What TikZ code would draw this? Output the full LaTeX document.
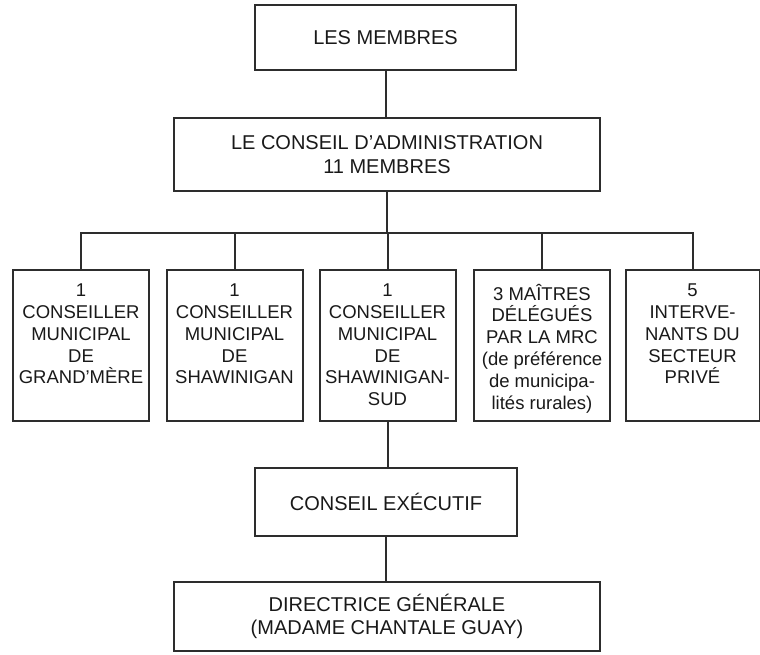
\documentclass[tikz,border=0pt]{standalone}
\usepackage{fontspec}
\setmainfont{Liberation Sans}
\definecolor{ln}{RGB}{45,45,45}
\definecolor{tx}{RGB}{25,25,25}
\newcommand{\rowtext}[1]{\parbox[c][145pt][t]{134pt}{\centering\fontsize{18.5}{21.8}\selectfont\vspace*{11pt}#1\par}}
\begin{document}
\begin{tikzpicture}[x=1pt,y=-1pt,
  box/.style={draw=ln, line width=2pt, inner sep=0pt, text=tx,
    font=\fontsize{20}{23.5}\selectfont, align=center},
  rowbox/.style={draw=ln, line width=2pt, inner sep=0pt, text=tx,
    minimum height=151pt, minimum width=136pt},
  conn/.style={draw=ln, line width=2pt}]
\useasboundingbox (0,0) rectangle (760,654);
\node[box, minimum width=261pt, minimum height=65pt] (mem) at (385.5,37.5) {LES MEMBRES};
\node[box, minimum width=426pt, minimum height=73pt] (admin) at (387,154.5) {LE CONSEIL D'ADMINISTRATION\\11 MEMBRES};
\node[rowbox] (b1) at (81,345.5) {\rowtext{1\\CONSEILLER\\MUNICIPAL\\DE\\GRAND'MÈRE}};
\node[rowbox] (b2) at (234.5,345.5) {\rowtext{1\\CONSEILLER\\MUNICIPAL\\DE\\SHAWINIGAN}};
\node[rowbox] (b3) at (387.5,345.5) {\rowtext{1\\CONSEILLER\\MUNICIPAL\\DE\\SHAWINIGAN-\\SUD}};
\node[rowbox] (b4) at (542,345.5) {\rowtext{3 MAÎTRES\\DÉLÉGUÉS\\PAR LA MRC\\(de préférence\\de municipa-\\lités rurales)}};
\node[rowbox, minimum width=129pt] (b5) at (692.5,345.5) {\rowtext{5\\INTERVE-\\NANTS DU\\SECTEUR\\PRIVÉ}};
\node[box, minimum width=262pt, minimum height=68pt] (exec) at (386,502) {CONSEIL EXÉCUTIF};
\node[box, minimum width=426pt, minimum height=69pt] (dir) at (387,616.5) {DIRECTRICE GÉNÉRALE\\(MADAME CHANTALE GUAY)};
\draw[conn] (mem.south) -- (mem.south |- admin.north);
\draw[conn] (admin.south) -- ++(0,41) coordinate (hub);
\foreach \b in {b1,b2,b3,b4,b5} \draw[conn] (hub) -| (\b.north);
\draw[conn] (b3.south) -- (b3.south |- exec.north);
\draw[conn] (exec.south) -- (exec.south |- dir.north);
\end{tikzpicture}
\end{document}
